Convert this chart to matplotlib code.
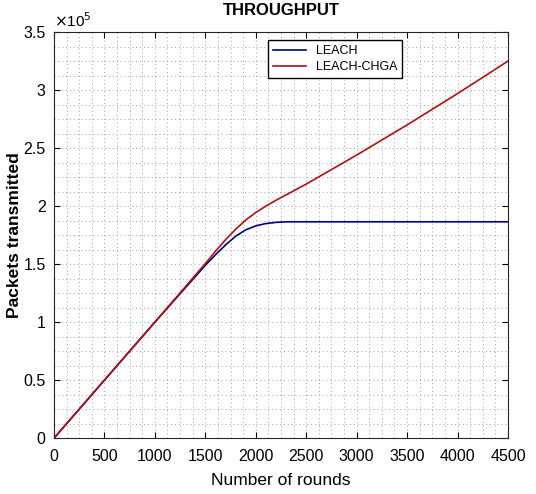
import numpy as np
import matplotlib.pyplot as plt
from matplotlib.ticker import AutoMinorLocator

plt.rcParams['font.family'] = ['Liberation Sans', 'DejaVu Sans']

# data
rounds_leach = [0, 500, 1000, 1500, 1600, 1700, 1800, 1900, 2000, 2100, 2200, 2300, 4500]
pkts_leach = [0, 50000, 100000, 149000, 158000, 166500, 174000, 179500, 183000, 185000, 186000, 186500, 186500]

rounds_chga = [0, 500, 1000, 1500, 1600, 1700, 1800, 1900, 2000, 2100, 2200, 2500, 3000, 3500, 4000, 4500]
pkts_chga = [0, 50000, 100000, 150500, 161000, 171000, 180000, 188000, 194500, 200000, 205000, 219000, 244000, 270000, 297000, 325000]

fig = plt.figure(figsize=(5.36, 4.94), dpi=100)
ax = fig.add_axes([0.1007, 0.113, 0.847, 0.822])

ax.plot(rounds_leach, pkts_leach, color='#000080', lw=1.2, label='LEACH')
ax.plot(rounds_chga, pkts_chga, color='#b01010', lw=1.2, label='LEACH-CHGA')

ax.set_xlim(0, 4500)
ax.set_ylim(0, 350000)
ax.set_xticks(np.arange(0, 4501, 500))
ax.set_yticks(np.arange(0, 350001, 50000))
ax.set_yticklabels(['0', '0.5', '1', '1.5', '2', '2.5', '3', '3.5'])
ax.xaxis.set_minor_locator(AutoMinorLocator(4))
ax.yaxis.set_minor_locator(AutoMinorLocator(4))
ax.tick_params(which='minor', length=0)
ax.tick_params(which='major', direction='in', length=4, labelsize=11.5, top=True, right=True)
ax.tick_params(axis='x', pad=8)
ax.tick_params(axis='y', pad=6)
ax.grid(which='both', linestyle=(0, (1, 3)), color='#a0a0a0', lw=0.7)
for s in ax.spines.values():
    s.set_color('#262626')
ax.text(0, 1.005, r'$\times$10$^5$', transform=ax.transAxes, fontsize=11, va='bottom')

ax.set_title('THROUGHPUT', fontweight='bold', fontsize=12, pad=12)
ax.set_xlabel('Number of rounds', fontsize=12.5, labelpad=6)
ax.set_ylabel('Packets transmitted', fontweight='bold', fontsize=12.5, labelpad=1)
ax.legend(loc='upper center', bbox_to_anchor=(0.62, 0.995), fancybox=False, edgecolor='black',
          framealpha=1, fontsize=9, handlelength=2.6, borderpad=0.4, labelspacing=0.3)

plt.savefig('out.png', dpi=100)
